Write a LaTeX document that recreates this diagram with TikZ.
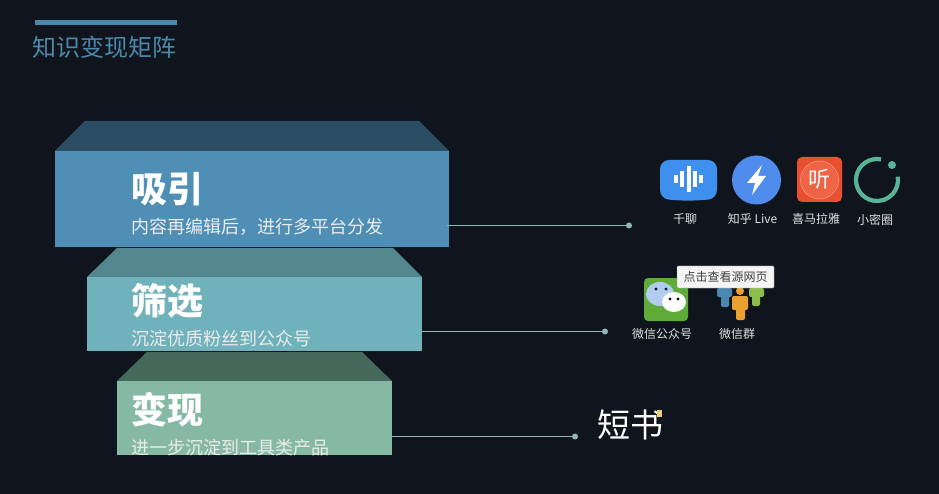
\documentclass[tikz,border=0pt]{standalone}
\usepackage{fontspec}
\setmainfont{Noto Sans CJK SC}
\usepackage{tikz}
\definecolor{bgdark}{HTML}{10151D}
\definecolor{titleblue}{HTML}{4A89AC}
\definecolor{topa}{HTML}{2B4D63}
\definecolor{fronta}{HTML}{4F8FB5}
\definecolor{topb}{HTML}{53868F}
\definecolor{frontb}{HTML}{70B2BB}
\definecolor{topc}{HTML}{456A5A}
\definecolor{frontc}{HTML}{86B9A3}
\definecolor{leader}{HTML}{8FB8BC}
\newcommand{\fs}[1]{\fontsize{#1}{#1}\selectfont}
\tikzset{
	front/.style={draw=none,inner sep=0pt,anchor=north west},
	head/.style={anchor=west,inner sep=0pt,text=white,font=\fs{36}\bfseries},
	sub/.style={anchor=west,inner sep=0pt,text=white!92!black,font=\fs{18}},
	iconlabel/.style={inner sep=0pt,text=white!88!black,font=\fs{12}},
	tip/.style={circle,fill=leader,inner sep=0pt,minimum size=6pt},
	leaderline/.style={leader,line width=1.7pt}
}
\begin{document}
\begin{tikzpicture}[x=1pt,y=-1pt]
	\fill [bgdark] (0,0) rectangle (939,494);
	\useasboundingbox (0,0) rectangle (939,494);
	% title
	\fill [titleblue] (35,20) rectangle (177,25);
	\node (title) [anchor=west,inner sep=0pt,text=titleblue,font=\fs{24}] at (32,47) {知识变现矩阵};
	% three tiers
	\fill [topa] (85,121) -- (419,121) -- (449,151) -- (55,151) -- cycle;
	\node (fronta) [front,fill=fronta,minimum width=394pt,minimum height=96pt] at (55,151) {};
	\fill [topb] (117,248) -- (393,248) -- (422,277) -- (87,277) -- cycle;
	\node (frontb) [front,fill=frontb,minimum width=335pt,minimum height=74pt] at (87,277) {};
	\fill [topc] (147,352) -- (362,352) -- (392,381) -- (117,381) -- cycle;
	\node (frontc) [front,fill=frontc,minimum width=275pt,minimum height=74pt] at (117,381) {};
	\node (heada) [head] at (131,189) {吸引};
	\node (suba) [sub] at (131,227) {内容再编辑后，进行多平台分发};
	\node (headb) [head] at (131,301) {筛选};
	\node (subb) [sub] at (131,339) {沉淀优质粉丝到公众号};
	\node (headc) [head] at (131,410) {变现};
	\node (subc) [sub] at (131,448) {进一步沉淀到工具类产品};
	% leaders
	\coordinate (starta) at (447,225.5);
	\coordinate (startb) at (422,331.5);
	\coordinate (startc) at (392,436.5);
	\node (tipa) [tip] at (629,225.5) {};
	\node (tipb) [tip] at (605,331.5) {};
	\node (tipc) [tip] at (575,436.5) {};
	\draw [leaderline] (starta) -- (tipa);
	\draw [leaderline] (startb) -- (tipb);
	\draw [leaderline] (startc) -- (tipc);
	% qianliao
	\fill [rounded corners=9pt,fill={rgb,255:red,63;green,143;blue,239}] (660,160) -- (717,160) -- (717,199) -- (688,201) -- (660,199) -- cycle;
	\foreach \x/\h in {676/4,682/8,689/13,695/8,701/4}
		\fill [white] (\x-1.6,179.5-\h) rectangle (\x+1.6,179.5+\h);
	\node (capa) [iconlabel] at (685,219) {千聊};
	% zhihu live
	\fill [fill={rgb,255:red,79;green,140;blue,235}] (756.5,180) circle (24.5);
	\fill [white] (762,165) -- (747,183) -- (755,183) -- (752,195) -- (766,176) -- (758,176) -- cycle;
	\node (capb) [iconlabel] at (752.5,219) {知乎 Live};
	% ximalaya
	\fill [fill={rgb,255:red,233;green,80;blue,47},rounded corners=5pt] (797,157) rectangle (842,202);
	\fill [fill={rgb,255:red,238;green,100;blue,68}] (819.5,180) circle (19);
	\draw [draw={rgb,255:red,245;green,150;blue,125},line width=0.6pt] (819.5,180) circle (19);
	\node (ting) [inner sep=0pt,text=white,font=\fs{22}] at (819.5,179) {听};
	\node (capc) [iconlabel] at (816,219) {喜马拉雅};
	% xiaomiquan
	\draw [draw={rgb,255:red,85;green,181;blue,150},line width=4.2pt] (877,180) ++(-79:21) arc[start angle=-79,delta angle=-290,radius=21];
	\fill [fill={rgb,255:red,85;green,181;blue,150}] (892,165) circle (4);
	\node (capd) [iconlabel] at (875,220) {小密圈};
	% wechat
	\fill [fill={rgb,255:red,95;green,171;blue,58},rounded corners=4pt] (644,278) rectangle (688,321);
	\fill [fill={rgb,255:red,176;green,205;blue,240}] (660,294) ellipse [x radius=14,y radius=12];
	\fill [white] (674,302) ellipse [x radius=12,y radius=10];
	\fill [bgdark] (656,289) circle (1.6) (666,289) circle (1.6) (670,299) circle (1.6) (678,299) circle (1.6);
	\node (cape) [iconlabel] at (662,334) {微信公众号};
	% wechat group
	\fill [fill={rgb,255:red,75;green,135;blue,175},rounded corners=2pt] (717,288) rectangle (732,297);
	\fill [fill={rgb,255:red,75;green,135;blue,175},rounded corners=2pt] (721,295) rectangle (729,307);
	\fill [fill={rgb,255:red,140;green,190;blue,75},rounded corners=2pt] (749,288) rectangle (764,297);
	\fill [fill={rgb,255:red,140;green,190;blue,75},rounded corners=2pt] (752,295) rectangle (760,306);
	\fill [fill={rgb,255:red,235;green,160;blue,50}] (740,291) circle (4);
	\fill [fill={rgb,255:red,235;green,160;blue,50},rounded corners=2pt] (732,296) rectangle (748,310);
	\fill [fill={rgb,255:red,235;green,160;blue,50},rounded corners=2pt] (736,308) rectangle (745,320);
	\node (capf) [iconlabel] at (737,334) {微信群};
	% tooltip
	\node (tooltip) [draw=black!45,fill=black!4,rounded corners=1pt,minimum width=97pt,minimum height=22pt,inner sep=0pt,text=black!75,font=\fs{12}] at (725.5,277) {点击查看源网页};
	% logo
	\node (logo) [inner sep=0pt,text=white,font=\fs{33}] at (630,425) {短书};
	\fill [fill={rgb,255:red,232;green,208;blue,120}] (657,410) rectangle (662,417);
\end{tikzpicture}
\end{document}
